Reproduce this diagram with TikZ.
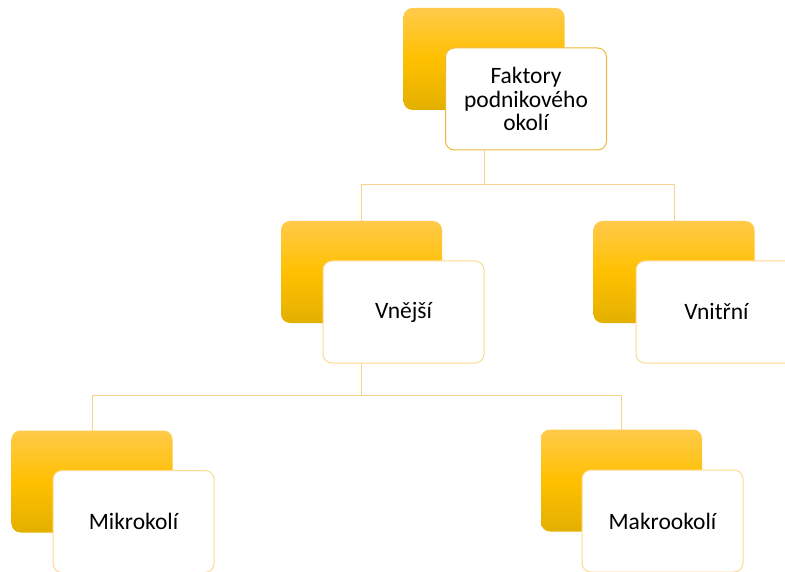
\documentclass[tikz,border=0pt]{standalone}
\usepackage{fontspec}
\setmainfont{Carlito}
\definecolor{zlutaH}{HTML}{FFCA4A}
\definecolor{zlutaS}{HTML}{FFC000}
\definecolor{zlutaD}{HTML}{E3B000}
\definecolor{okraj}{HTML}{FFD98F}
\definecolor{okrajT}{HTML}{EDB73C}
\definecolor{spoj}{HTML}{F6D28C}
\begin{document}
\begin{tikzpicture}[x=1pt, y=-1pt, line join=round, line cap=round,
	zadni/.style={rectangle, rounded corners=9pt, minimum width=161pt, minimum height=102pt,
		top color=zlutaH, bottom color=zlutaD, middle color=zlutaS, draw=none},
	predni/.style={rectangle, rounded corners=9pt, minimum width=161pt, minimum height=102pt,
		fill=white, draw=okraj, line width=1pt, align=center, text=black,
		font=\fontsize{23.5}{23.4}\selectfont},
	spojnice/.style={draw=spoj, line width=1pt}]
	\clip (0,0) rectangle (785,572);
	\useasboundingbox (0,0) rectangle (785,572);
	% horní úroveň
	\node[zadni] (faktB) at (484,59) {};
	\node[predni, draw=okrajT] (fakt) at (526,99) {Faktory\\podnikového\\okolí};
	% druhá úroveň
	\node[zadni] (vneB) at (361.5,272) {};
	\node[predni] (vne) at (403.5,312) {Vnější};
	\node[zadni] (vniB) at (674,272) {};
	\node[predni] (vni) at (716.5,312) {Vnitřní};
	% třetí úroveň
	\node[zadni] (mikB) at (92,481.5) {};
	\node[predni] (mik) at (133.5,521.5) {Mikrokolí};
	\node[zadni] (makB) at (621.5,480.5) {};
	\node[predni] (mak) at (662.5,521) {Makrookolí};
	% spojnice
	\coordinate (uzelA) at (484,185);
	\coordinate (uzelB) at (361.5,395);
	\path[spojnice] (faktB |- fakt.south) -- (uzelA) -| (vneB.north);
	\path[spojnice] (uzelA) -| (vniB.north);
	\path[spojnice] (vneB |- vne.south) -- (uzelB) -| (mikB.north);
	\path[spojnice] (uzelB) -| (makB.north);
\end{tikzpicture}
\end{document}
